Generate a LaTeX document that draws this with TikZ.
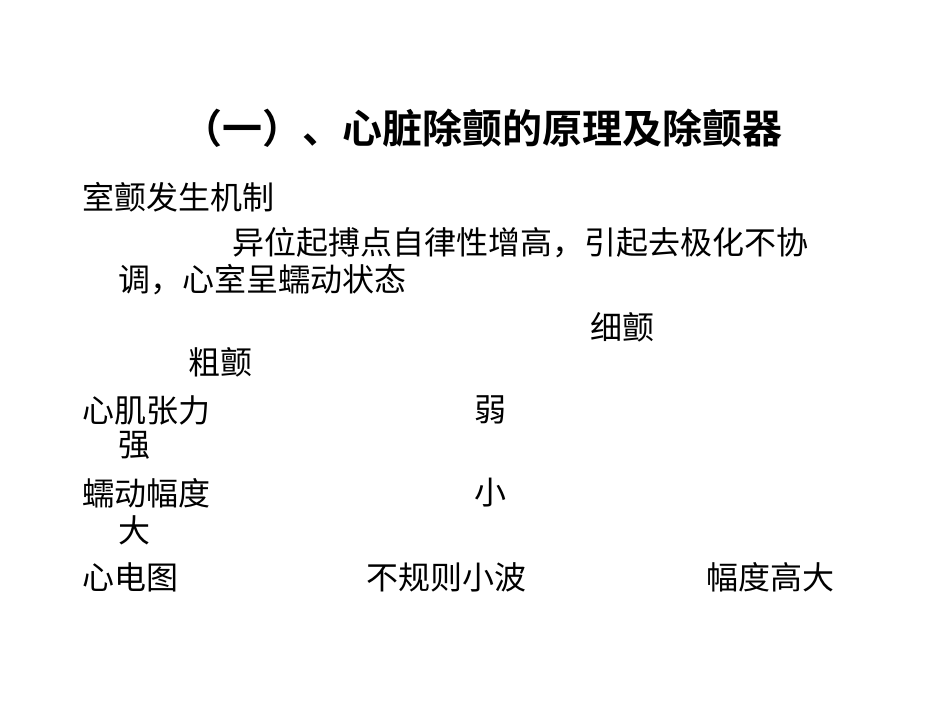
\documentclass[tikz,border=0pt]{standalone}
\usepackage{fontspec}
\newfontfamily\cjk{Noto Sans CJK SC}[BoldFont={* Bold}]
\begin{document}
\begin{tikzpicture}[x=1pt,y=-1pt]
\tikzset{t/.style={anchor=west,inner sep=0pt,font=\cjk\fontsize{32}{34}\selectfont}}
\useasboundingbox[fill=white] (0,0) rectangle (950,713);
\node[inner sep=0pt,font=\cjk\bfseries\fontsize{40}{44}\selectfont] (title) at (482,128) {（一）、心脏除颤的原理及除颤器};
\node[t] (a) at (82,197) {室颤发生机制};
\node[t] (b) at (232,243) {异位起搏点自律性增高，引起去极化不协};
\node[t] (c) at (118,280) {调，心室呈蠕动状态};
\node[t] (d) at (590,327) {细颤};
\node[t] (e) at (188,362) {粗颤};
\node[t] (f) at (82,410) {心肌张力};
\node[t] (g) at (474,410) {弱};
\node[t] (h) at (118,445) {强};
\node[t] (i) at (82,493) {蠕动幅度};
\node[t] (j) at (474,493) {小};
\node[t] (k) at (118,530) {大};
\node[t] (l) at (82,577) {心电图};
\node[t] (m) at (366,577) {不规则小波};
\node[t] (n) at (706,577) {幅度高大};
\end{tikzpicture}
\end{document}
